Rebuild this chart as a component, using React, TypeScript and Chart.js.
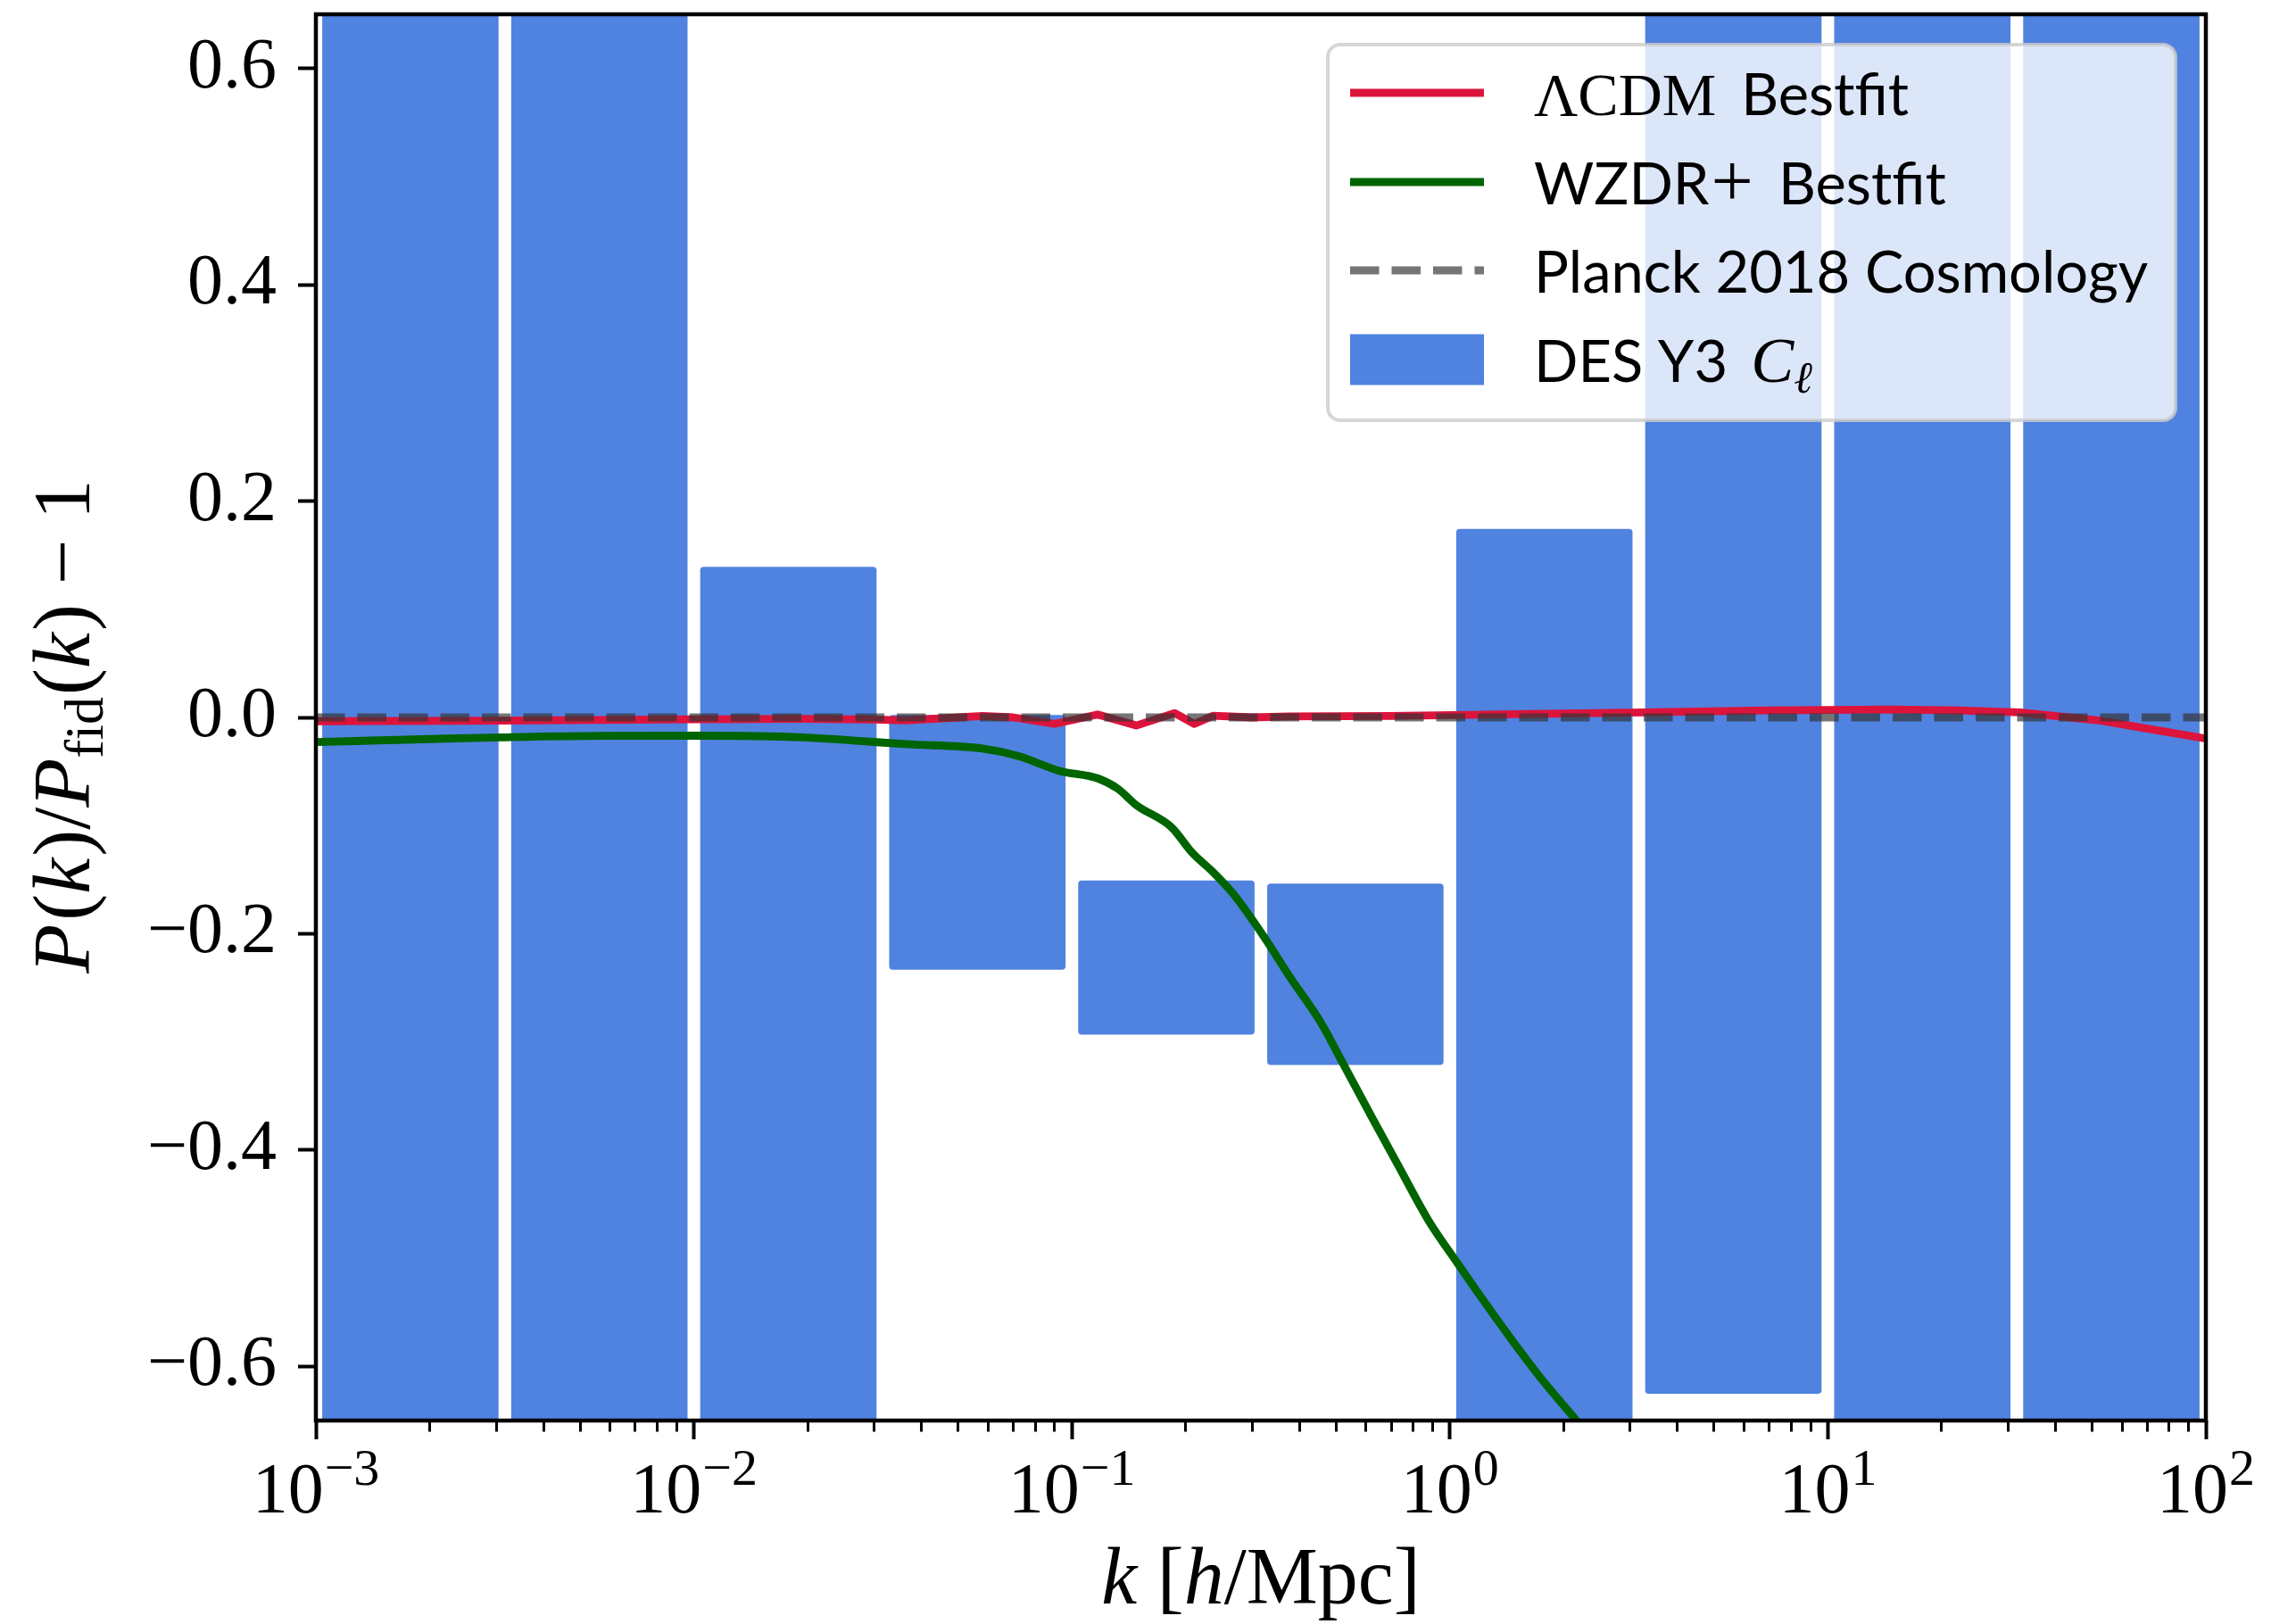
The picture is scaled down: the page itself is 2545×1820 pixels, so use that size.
import React, { useEffect, useRef } from "react";
import { Chart, registerables } from "chart.js";

Chart.register(...registerables);

// ---------------- data ----------------
// DES Y3 C_ell bins (half-decade bins in k [h/Mpc])
const binEdges = [0.001, 0.0031623, 0.01, 0.031623, 0.1, 0.31623, 1, 3.1623, 10, 31.623, 100];
const desLower = [-1.0, -1.0, -1.0, -0.233, -0.293, -0.321, -1.0, -0.625, -1.0, -1.0];
const desUpper = [1.0, 1.0, 0.139, 0.002, -0.151, -0.154, 0.174, 1.0, 1.0, 1.0];

// LambdaCDM best fit
const lcdmK = [0.001, 0.003, 0.01, 0.0195, 0.03, 0.0363, 0.05, 0.058, 0.07, 0.09, 0.117, 0.148, 0.187, 0.211, 0.236, 0.3, 0.377, 0.7, 1.5, 3.26, 7, 14.6, 22, 32.3, 52, 71.8, 100];
const lcdmY = [-0.0035, -0.003, -0.0018, -0.0014, -0.002, -0.0028, 0.0, 0.0014, 0.0, -0.006, 0.0027, -0.0075, 0.004, -0.006, 0.0015, 0.0, 0.001, 0.0014, 0.003, 0.0047, 0.0065, 0.0074, 0.0065, 0.0047, -0.0027, -0.011, -0.0195];

// WZDR+ best fit
const wzdrK = [0.001, 0.002, 0.00308, 0.0057, 0.0103, 0.0195, 0.028, 0.0363, 0.058, 0.0721, 0.0927, 0.117, 0.1324, 0.148, 0.1836, 0.208, 0.236, 0.267, 0.323, 0.377, 0.455, 0.522, 0.62, 0.729, 0.88, 1.05, 1.25, 1.47, 1.78, 2.15, 2.6];
const wzdrY = [-0.0228, -0.02, -0.0184, -0.017, -0.0169, -0.0184, -0.022, -0.0247, -0.0288, -0.0357, -0.0494, -0.0563, -0.066, -0.081, -0.1016, -0.125, -0.1428, -0.163, -0.2033, -0.2397, -0.2817, -0.3202, -0.3688, -0.4138, -0.4656, -0.505, -0.543, -0.577, -0.615, -0.649, -0.684];

// Planck 2018 reference
const planckK = [0.001, 100];
const planckY = [0, 0];

// axes
const yTicks = [-0.6, -0.4, -0.2, 0, 0.2, 0.4, 0.6];
const xMajorTicks = [0.001, 0.01, 0.1, 1, 10, 100];
const xTickExponents = ["\u22123", "\u22122", "\u22121", "0", "1", "2"];
const xMinorMultipliers = [2, 3, 4, 5, 6, 7, 8, 9];

// ---------------- styles ----------------
const SERIF = '"Liberation Serif", "DejaVu Serif", serif';
const SANS = 'Lato, "Noto Sans", sans-serif';
const RED = "#DC143C";
const GREEN = "#006400";
const DASH_COLOR = "rgba(51,51,51,0.68)";
const BLUE = "#5082E0";
const LW = 8.8;
const DASH = [32.5, 14];

const AREA = { left: 354, top: 16, right: 2472, bottom: 1592 };
const W = 2545;
const H = 1820;

type Seg = { t: string; f: string; gap?: number; dy?: number };

function segWidth(ctx: CanvasRenderingContext2D, segs: Seg[]) {
  let w = 0;
  for (const s of segs) {
    ctx.font = s.f;
    w += (s.gap || 0) + ctx.measureText(s.t).width;
  }
  return w;
}

function drawSegs(ctx: CanvasRenderingContext2D, segs: Seg[], x: number, y: number, align: "left" | "center") {
  const w = segWidth(ctx, segs);
  let cx = align === "center" ? x - w / 2 : x;
  ctx.textAlign = "left";
  ctx.textBaseline = "alphabetic";
  for (const s of segs) {
    ctx.font = s.f;
    cx += s.gap || 0;
    ctx.fillText(s.t, cx, y + (s.dy || 0));
    cx += ctx.measureText(s.t).width;
  }
}

const isDecade = (v: number) => Math.abs(Math.log10(v) - Math.round(Math.log10(v))) < 1e-9;

const xAllTicks: number[] = [];
xMajorTicks.forEach((m, i) => {
  xAllTicks.push(m);
  if (i < xMajorTicks.length - 1) xMinorMultipliers.forEach((k) => xAllTicks.push(m * k));
});

const LEG_SANS = `65px ${SANS}`;
const LEG_SERIF = `68px ${SERIF}`;

const legendEntries = [
  { ds: 1, kind: "line", segs: [{ t: "\u039BCDM", f: LEG_SERIF }, { t: "Bestfit", f: LEG_SANS, gap: 28 }] as Seg[] },
  { ds: 2, kind: "line", segs: [{ t: "WZDR", f: LEG_SANS }, { t: "+", f: `84px ${SERIF}`, gap: 2, dy: 2 }, { t: "Bestfit", f: LEG_SANS, gap: 28 }] as Seg[] },
  { ds: 0, kind: "line", segs: [{ t: "Planck 2018 Cosmology", f: LEG_SANS }] as Seg[] },
  { ds: 3, kind: "rect", segs: [{ t: "DES Y3", f: LEG_SANS }, { t: "C", f: `italic 72px ${SERIF}`, gap: 26 }, { t: "\u2113", f: `italic 50px ${SERIF}`, dy: 12 }] as Seg[] },
];

const AX = 90;

const decorPlugin = {
  id: "decor",
  afterDraw(chart: any) {
    const ctx: CanvasRenderingContext2D = chart.ctx;
    const ca = chart.chartArea;
    const xs = chart.scales.x;
    ctx.save();

    // frame
    ctx.strokeStyle = "#000";
    ctx.lineWidth = 4.5;
    ctx.setLineDash([]);
    ctx.strokeRect(ca.left, ca.top, ca.right - ca.left, ca.bottom - ca.top);

    // x tick labels 10^n
    ctx.fillStyle = "#000";
    xMajorTicks.forEach((v, i) => {
      const px = xs.getPixelForValue(v);
      drawSegs(ctx, [{ t: "10", f: `80px ${SERIF}` }, { t: xTickExponents[i], f: `58px ${SERIF}`, dy: -31, gap: 1 }], px, 1695, "center");
    });

    // x axis title
    drawSegs(
      ctx,
      [
        { t: "k", f: `italic ${AX}px ${SERIF}` },
        { t: " [", f: `${AX}px ${SERIF}` },
        { t: "h", f: `italic ${AX}px ${SERIF}` },
        { t: "/Mpc]", f: `${AX}px ${SERIF}` },
      ],
      (ca.left + ca.right) / 2,
      1797,
      "center"
    );

    // y axis title
    ctx.save();
    ctx.translate(100, (ca.top + ca.bottom) / 2 + 10);
    ctx.rotate(-Math.PI / 2);
    drawSegs(
      ctx,
      [
        { t: "P", f: `italic ${AX}px ${SERIF}` },
        { t: "(", f: `${AX}px ${SERIF}`, gap: 4 },
        { t: "k", f: `italic ${AX}px ${SERIF}` },
        { t: ")/", f: `${AX}px ${SERIF}`, gap: 2 },
        { t: "P", f: `italic ${AX}px ${SERIF}` },
        { t: "fid", f: `62px ${SERIF}`, dy: 15 },
        { t: "(", f: `${AX}px ${SERIF}`, gap: 2 },
        { t: "k", f: `italic ${AX}px ${SERIF}` },
        { t: ")", f: `${AX}px ${SERIF}`, gap: 2 },
        { t: "\u2212", f: `${AX}px ${SERIF}`, gap: 22 },
        { t: "1", f: `${AX}px ${SERIF}`, gap: 22 },
      ],
      0,
      0,
      "center"
    );
    ctx.restore();

    // legend
    const L = { x: 1488, y: 50, w: 950, h: 421, r: 14 };
    ctx.beginPath();
    ctx.roundRect(L.x, L.y, L.w, L.h, L.r);
    ctx.fillStyle = "rgba(255,255,255,0.8)";
    ctx.fill();
    ctx.lineWidth = 4;
    ctx.strokeStyle = "rgba(204,204,204,0.8)";
    ctx.stroke();

    const rows = [104, 204, 303, 403];
    const hx0 = 1513;
    const hx1 = 1663;
    const tx = 1719;
    legendEntries.forEach((e, i) => {
      const ds = chart.data.datasets[e.ds];
      const y = rows[i];
      if (e.kind === "line") {
        ctx.beginPath();
        ctx.setLineDash(ds.borderDash || []);
        ctx.lineDashOffset = 0;
        ctx.strokeStyle = ds.borderColor;
        ctx.lineWidth = ds.borderWidth;
        ctx.lineCap = "butt";
        ctx.moveTo(hx0, y);
        ctx.lineTo(hx1, y);
        ctx.stroke();
        ctx.setLineDash([]);
      } else {
        ctx.fillStyle = ds.backgroundColor;
        ctx.fillRect(hx0, y - 28.5, hx1 - hx0, 57);
      }
      ctx.fillStyle = "#000";
      drawSegs(ctx, e.segs, tx, y + 25, "left");
    });

    ctx.restore();
  },
};

export default function App() {
  const ref = useRef<HTMLCanvasElement>(null);

  useEffect(() => {
    const binCenters = binEdges.slice(0, -1).map((lo, i) => Math.sqrt(lo * binEdges[i + 1]));
    const chart = new Chart(ref.current as HTMLCanvasElement, {
      type: "bar",
      data: {
        datasets: [
          {
            type: "line",
            label: "Planck 2018 Cosmology",
            data: planckK.map((k, i) => ({ x: k, y: planckY[i] })),
            borderColor: DASH_COLOR,
            borderWidth: LW,
            borderDash: DASH,
            pointRadius: 0,
            tension: 0,
            order: 0,
            clip: 0,
          },
          {
            type: "line",
            label: "\u039BCDM Bestfit",
            data: lcdmK.map((k, i) => ({ x: k, y: lcdmY[i] })),
            borderColor: RED,
            borderWidth: LW,
            borderJoinStyle: "round",
            pointRadius: 0,
            tension: 0,
            order: 1,
            clip: 0,
          },
          {
            type: "line",
            label: "WZDR+ Bestfit",
            data: wzdrK.map((k, i) => ({ x: k, y: wzdrY[i] })),
            borderColor: GREEN,
            borderWidth: LW,
            borderJoinStyle: "round",
            cubicInterpolationMode: "monotone",
            pointRadius: 0,
            order: 2,
            clip: 0,
          },
          {
            type: "bar",
            label: "DES Y3 C\u2113",
            data: binCenters.map((c, i) => ({ x: c, y: [desLower[i], desUpper[i]] })),
            backgroundColor: BLUE,
            borderWidth: 0,
            borderRadius: 4,
            borderSkipped: false,
            barThickness: "flex",
            categoryPercentage: 1,
            barPercentage: 0.93,
            order: 3,
            clip: 0,
          },
        ] as any,
      },
      options: {
        responsive: false,
        maintainAspectRatio: false,
        devicePixelRatio: 1,
        animation: false,
        events: [],
        layout: { padding: { left: 0, top: AREA.top, right: W - AREA.right, bottom: 0 } },
        plugins: { legend: { display: false }, tooltip: { enabled: false } },
        scales: {
          x: {
            type: "logarithmic",
            min: 0.001,
            max: 100,
            offset: false,
            grid: {
              display: true,
              offset: false,
              drawOnChartArea: false,
              drawTicks: true,
              tickLength: 21,
              tickColor: "#000",
              tickWidth: (c: any) => (c.tick && isDecade(c.tick.value) ? 4 : 3),
              tickBorderDash: (c: any) => (c.tick && isDecade(c.tick.value) ? [] : [12.5, 400]),
            },
            border: { display: false },
            ticks: { display: false, autoSkip: false },
            afterBuildTicks: (s: any) => {
              s.ticks = xAllTicks.map((v) => ({ value: v }));
            },
            afterFit: (s: any) => {
              s.height = H - AREA.bottom;
              s.paddingLeft = 0;
              s.paddingRight = 0;
              s.paddingTop = 0;
              s.paddingBottom = 0;
            },
          },
          y: {
            type: "linear",
            min: -0.65,
            max: 0.65,
            grid: {
              display: true,
              drawOnChartArea: false,
              drawTicks: true,
              tickLength: 20,
              tickColor: "#000",
              tickWidth: 4,
            },
            border: { display: false },
            ticks: {
              autoSkip: false,
              color: "#000",
              padding: 24,
              font: { family: SERIF, size: 80 },
              callback: (v: any) => {
                const n = Number(v);
                if (Math.abs(n) < 1e-9) return "0.0";
                return (n < 0 ? "\u2212" : "") + Math.abs(n).toFixed(1);
              },
            },
            afterBuildTicks: (s: any) => {
              s.ticks = yTicks.map((v) => ({ value: v }));
            },
            afterFit: (s: any) => {
              s.width = AREA.left;
              s.paddingTop = 0;
              s.paddingBottom = 0;
              s.paddingLeft = 0;
              s.paddingRight = 0;
            },
          },
        },
      } as any,
      plugins: [decorPlugin],
    });
    return () => chart.destroy();
  }, []);

  return (
    <div style={{ position: "fixed", left: 0, top: 0, width: W, height: H, background: "#fff" }}>
      <canvas ref={ref} width={W} height={H} style={{ width: W, height: H, display: "block" }} />
    </div>
  );
}
